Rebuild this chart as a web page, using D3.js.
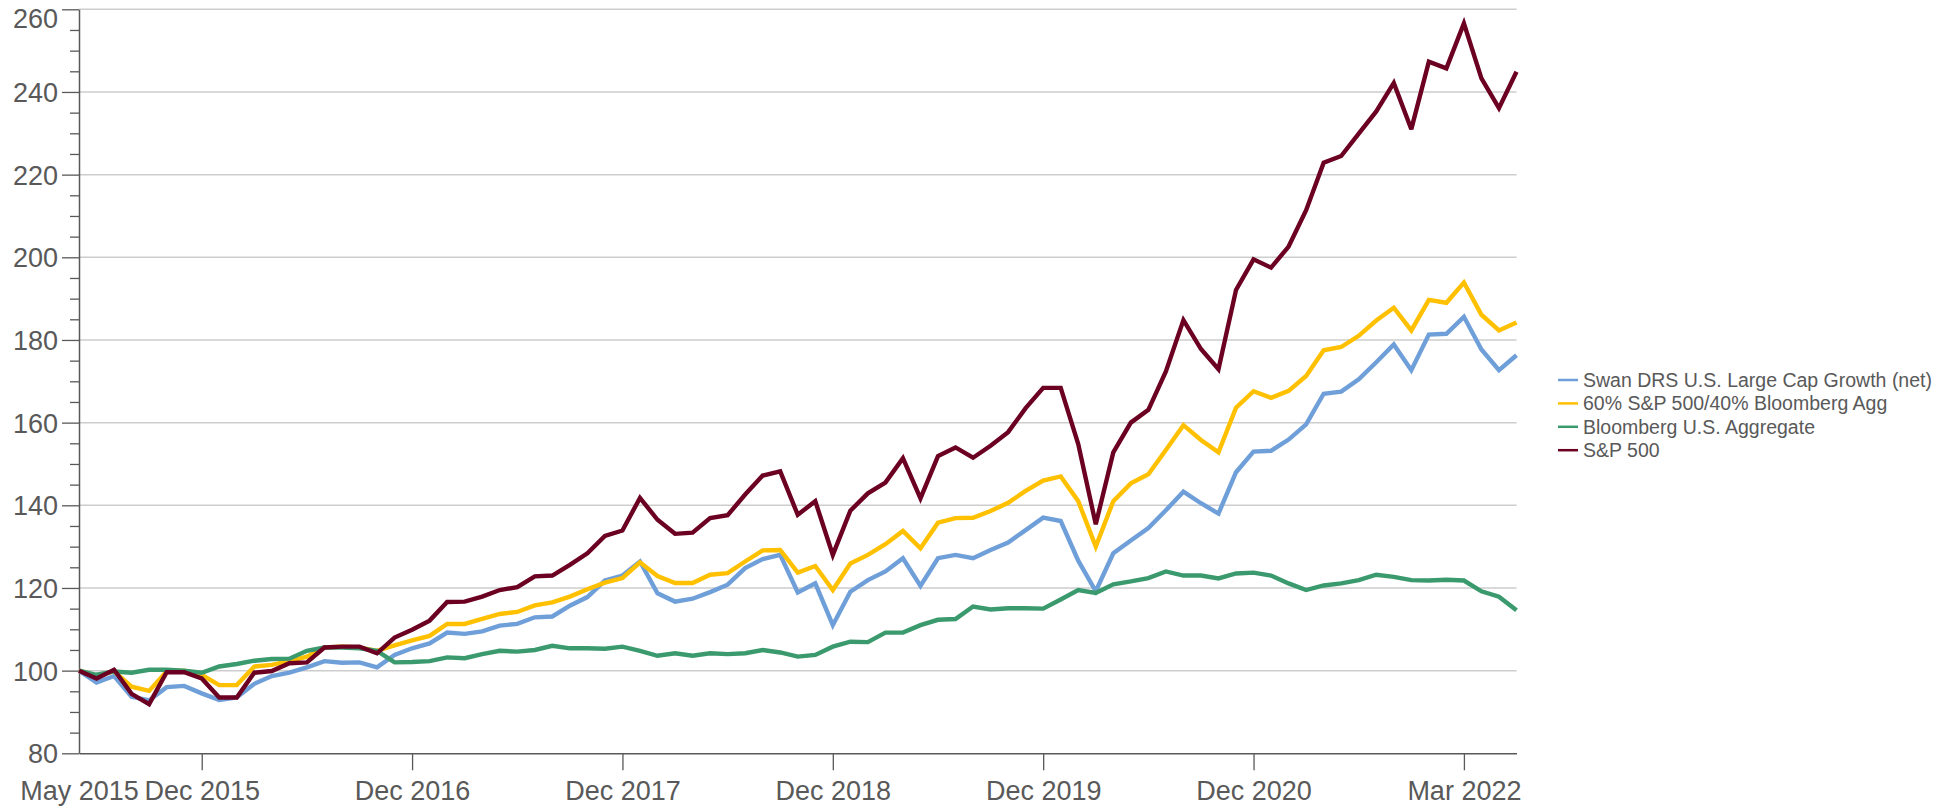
<!DOCTYPE html>
<html>
<head>
<meta charset="utf-8">
<script src="https://cdn.jsdelivr.net/npm/d3@7"></script>
<style>
  html, body { margin: 0; padding: 0; background: #fff; }
  svg { display: block; font-family: "Liberation Sans", Arial, sans-serif; }
</style>
</head>
<body>
<svg id="chart" width="1955" height="809"></svg>
<script>
// month index 0 = May 2015
var tickIdx = [0, 7, 19, 31, 43, 55, 67, 79];
var tickLabels = ["May 2015", "Dec 2015", "Dec 2016", "Dec 2017", "Dec 2018", "Dec 2019", "Dec 2020", "Mar 2022"];
var yTicks = [80, 100, 120, 140, 160, 180, 200, 220, 240, 260];

var seriesNames = ["Swan DRS U.S. Large Cap Growth (net)", "60% S&P 500/40% Bloomberg Agg", "Bloomberg U.S. Aggregate", "S&P 500"];
var seriesColors = ["#6F9FD8", "#FFC000", "#3A9A6D", "#6B0022"];

var swan = [100, 97.1, 98.7, 93.7, 92.8, 96.0, 96.3, 94.5, 92.9, 93.5,
  96.8, 98.7, 99.5, 100.8, 102.3, 101.9, 102.0, 100.8, 103.8, 105.4,
  106.6, 109.2, 108.9, 109.5, 110.9, 111.3, 112.9, 113.1, 115.7, 117.8,
  121.8, 123.0, 126.4, 118.7, 116.7, 117.4, 119.0, 120.8, 124.8, 127.0,
  128.0, 118.9, 121.1, 111.0, 119.1, 121.9, 124.0, 127.2, 120.5, 127.2,
  128.0, 127.2, 129.2, 131.0, 134.0, 137.0, 136.2, 126.6, 119.2, 128.4,
  131.5, 134.5, 138.8, 143.3, 140.5, 138.0, 148.0, 153.0, 153.2, 155.9,
  159.6, 167.0, 167.5, 170.5, 174.6, 178.9, 172.7, 181.3, 181.5, 185.6,
  177.7, 172.7, 176.3];

var mix6040 = [100, 98.8, 99.8, 96.1, 95.1, 99.8, 100.0, 99.0, 96.5, 96.5,
  101.0, 101.4, 102.3, 103.4, 105.6, 105.8, 105.6, 104.8, 106.1, 107.3,
  108.4, 111.3, 111.3, 112.5, 113.7, 114.2, 115.8, 116.5, 117.9, 119.7,
  121.3, 122.4, 126.2, 122.9, 121.2, 121.2, 123.2, 123.6, 126.4, 129.1,
  129.2, 123.7, 125.3, 119.5, 125.9, 128.0, 130.6, 133.8, 129.6, 135.8,
  136.9, 137.0, 138.6, 140.6, 143.5, 146.0, 147.0, 141.0, 130.0, 141.0,
  145.3, 147.5, 153.4, 159.4, 155.8, 152.8, 163.6, 167.6, 166.0, 167.7,
  171.3, 177.5, 178.3, 181.0, 184.7, 187.8, 182.3, 189.7, 189.0, 193.9,
  186.1, 182.3, 184.2];

var agg = [100, 99.0, 99.8, 99.5, 100.2, 100.2, 100.0, 99.5, 101.0, 101.6,
  102.4, 102.8, 102.9, 104.8, 105.6, 105.6, 105.4, 104.8, 102.0, 102.1,
  102.3, 103.2, 103.0, 104.0, 104.8, 104.6, 105.0, 106.0, 105.4, 105.4,
  105.3, 105.8, 104.8, 103.6, 104.2, 103.6, 104.2, 104.0, 104.2, 105.0,
  104.4, 103.4, 103.8, 105.8, 107.0, 106.9, 109.2, 109.2, 111.0, 112.3,
  112.5, 115.5, 114.8, 115.1, 115.1, 115.0, 117.2, 119.5, 118.8, 120.9,
  121.6, 122.4, 124.0, 123.0, 123.0, 122.3, 123.5, 123.7, 123.0, 121.1,
  119.5, 120.6, 121.1, 121.9, 123.2, 122.7, 121.9, 121.8, 122.0, 121.8,
  119.2, 117.9, 114.6];

var sp500 = [100, 98.1, 100.2, 94.4, 91.9, 99.6, 99.6, 98.1, 93.5, 93.5,
  99.5, 99.9, 101.8, 102.0, 105.6, 105.8, 105.8, 104.2, 108.0, 109.9,
  112.1, 116.6, 116.7, 117.9, 119.5, 120.2, 122.8, 123.0, 125.6, 128.4,
  132.6, 133.9, 141.8, 136.5, 133.1, 133.4, 136.9, 137.6, 142.6, 147.2,
  148.2, 137.7, 141.0, 128.0, 138.7, 142.9, 145.5, 151.4, 141.7, 151.9,
  154.0, 151.5, 154.4, 157.7, 163.5, 168.4, 168.4, 154.8, 135.4, 152.8,
  160.0, 163.1, 172.4, 184.8, 177.8, 172.9, 192.1, 199.5, 197.5, 202.6,
  211.4, 222.9, 224.5, 229.9, 235.3, 242.2, 231.0, 247.3, 245.7, 256.6,
  243.3, 236.1, 244.9];

var allSeries = [swan, mix6040, agg, sp500];

var svg = d3.select("#chart");
var plotLeft = 79, plotRight = 1516.5, plotTop = 9.3, plotBottom = 753.3;
var textColor = "#595959";

var x = d3.scaleLinear().domain([0, sp500.length - 1]).range([plotLeft, plotRight]);
var y = d3.scaleLinear().domain([80, 260]).range([plotBottom, plotTop]);

// gridlines
svg.append("g").selectAll("line").data(yTicks.filter(function(d) { return d > 80; }))
  .enter().append("line")
  .attr("x1", plotLeft).attr("x2", plotRight)
  .attr("y1", function(d) { return y(d); })
  .attr("y2", function(d) { return y(d); })
  .attr("stroke", "#CDCDCD")
  .attr("stroke-width", 1.5);

// minor y ticks
var minor = d3.range(85, 260, 5).filter(function(d) { return d % 20 !== 0; });
svg.append("g")
  .attr("transform", "translate(" + plotLeft + ",0)")
  .call(d3.axisLeft(y).tickValues(minor).tickSize(9).tickFormat(""))
  .call(function(g) {
    g.select(".domain").remove();
    g.selectAll("line").attr("stroke", textColor).attr("stroke-width", 1.3);
  });

// y axis
var yAxis = svg.append("g")
  .attr("transform", "translate(" + plotLeft + ",0)")
  .call(d3.axisLeft(y).tickValues(yTicks).tickSize(17).tickPadding(4).tickSizeOuter(0));
yAxis.select(".domain").attr("stroke", textColor).attr("stroke-width", 1.5);
yAxis.selectAll("line").attr("stroke", textColor).attr("stroke-width", 1.3);
yAxis.selectAll("text")
  .attr("fill", textColor)
  .style("font-size", "27px")
  .attr("dy", function(d) { return d === 260 ? "0.68em" : "0.35em"; });

// x axis
var xAxis = svg.append("g")
  .attr("transform", "translate(0," + plotBottom + ")")
  .call(d3.axisBottom(x).tickValues(tickIdx)
    .tickFormat(function(d, i) { return tickLabels[i]; })
    .tickSize(17).tickPadding(11).tickSizeOuter(0));
xAxis.select(".domain").attr("stroke", textColor).attr("stroke-width", 1.5);
xAxis.selectAll("line").attr("stroke", textColor).attr("stroke-width", 1.3)
  .attr("y2", function(d) { return d === 0 ? 0 : 17; });
xAxis.selectAll("text").attr("fill", textColor).style("font-size", "27px");

// series lines
var line = d3.line()
  .x(function(d, i) { return x(i); })
  .y(function(d) { return y(d); });

svg.append("g").selectAll("path").data(allSeries).enter().append("path")
  .attr("d", line)
  .attr("fill", "none")
  .attr("stroke", function(d, i) { return seriesColors[i]; })
  .attr("stroke-width", 4.4)
  .attr("stroke-linejoin", "miter")
  .attr("stroke-miterlimit", 3);

// legend
var legend = svg.append("g").attr("transform", "translate(1558,380)");
var rows = legend.selectAll("g").data(seriesNames).enter().append("g")
  .attr("transform", function(d, i) { return "translate(0," + (i * 23.4) + ")"; });
rows.append("line")
  .attr("x1", 0).attr("x2", 20).attr("y1", 0).attr("y2", 0)
  .attr("stroke", function(d, i) { return seriesColors[i]; })
  .attr("stroke-width", 2.5);
rows.append("text")
  .attr("x", 25).attr("dy", "0.36em")
  .attr("fill", textColor)
  .style("font-size", "19.5px")
  .text(function(d) { return d; });
</script>
</body>
</html>
